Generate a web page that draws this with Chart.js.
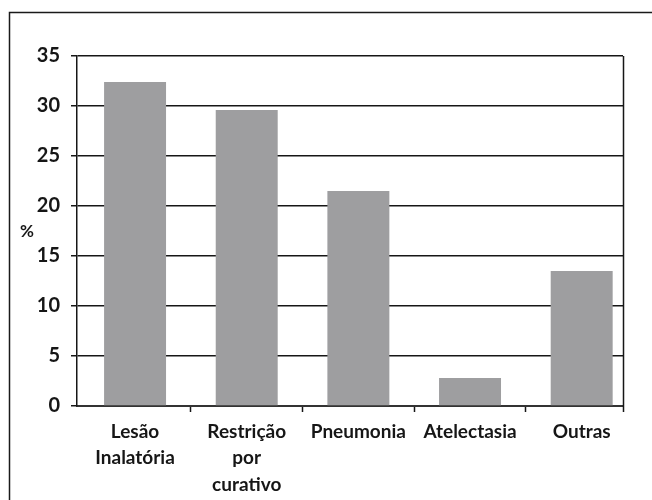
<!DOCTYPE html>
<html>
<head>
<meta charset="utf-8">
<script src="https://cdn.jsdelivr.net/npm/chart.js@4"></script>
<style>
  html, body { margin: 0; padding: 0; background: #fff; }
  #wrap { width: 652px; height: 500px; position: relative; }
</style>
</head>
<body>
<div id="wrap"><canvas id="c" width="652" height="500"></canvas></div>
<script>
// Complications, percentage of patients
const categories = [
  ['Lesão', 'Inalatória'],
  ['Restrição', 'por', 'curativo'],
  'Pneumonia',
  'Atelectasia',
  'Outras'
];
const percentages = [32.4, 29.6, 21.5, 2.8, 13.5];
const yTicks = [0, 5, 10, 15, 20, 25, 30, 35];
const yAxisLabel = '%';

const FONT = 'Lato, "Open Sans", "DejaVu Sans", sans-serif';
const INK = '#161616';

// Category slots laid on a numeric axis: bar i sits at x = i,
// tick marks fall on the half steps between categories.
const X_MIN = -0.52;
const X_MAX = 4.37;
const xTickValues = [];
for (let i = 0; i < categories.length; i++) {
  xTickValues.push(i);
  if (i < categories.length - 1) xTickValues.push(i + 0.5);
}

// Outer frame, right edge of the plot and the horizontal "%" axis label
const decorations = {
  id: 'decorations',
  beforeDraw(chart) {
    const { ctx } = chart;
    ctx.save();
    ctx.strokeStyle = '#1a1a1a';
    ctx.lineWidth = 1.5;
    ctx.beginPath();
    ctx.moveTo(9.5, chart.height);
    ctx.lineTo(9.5, 12.5);
    ctx.lineTo(chart.width, 12.5);
    ctx.stroke();
    ctx.restore();
  },
  afterDraw(chart) {
    const { ctx, chartArea } = chart;
    const y = chart.scales.y;
    ctx.save();
    ctx.strokeStyle = INK;
    ctx.lineWidth = 1.5;
    ctx.beginPath();
    const x = Math.round(chartArea.right) + 0.5;
    ctx.moveTo(x, chartArea.top);
    ctx.lineTo(x, chartArea.bottom + 6);
    ctx.stroke();
    ctx.fillStyle = INK;
    ctx.font = 'bold 17px ' + FONT;
    ctx.textAlign = 'center';
    ctx.textBaseline = 'middle';
    ctx.fillText(yAxisLabel, 27, y.getPixelForValue(17.4));
    ctx.restore();
  }
};

new Chart(document.getElementById('c'), {
  type: 'bar',
  data: {
    datasets: [{
      data: percentages.map((v, i) => ({ x: i, y: v })),
      backgroundColor: '#9e9ea0',
      borderWidth: 0,
      // width relative to the half-step tick spacing
      barPercentage: 1.11,
      categoryPercentage: 1
    }]
  },
  options: {
    responsive: false,
    animation: false,
    devicePixelRatio: 1,
    layout: { padding: { left: 0, right: 29, top: 56, bottom: 0 } },
    plugins: {
      legend: { display: false },
      tooltip: { enabled: false }
    },
    scales: {
      x: {
        type: 'linear',
        offset: false,
        min: X_MIN,
        max: X_MAX,
        afterBuildTicks(scale) { scale.ticks = xTickValues.map(v => ({ value: v })); },
        grid: {
          offset: false,
          drawOnChartArea: false,
          drawTicks: true,
          tickLength: 6,
          tickColor: ctx => (ctx.tick && Number.isInteger(ctx.tick.value)) ? 'rgba(0,0,0,0)' : INK,
          tickWidth: 1.5
        },
        border: { display: true, color: '#333', width: 2 },
        ticks: {
          color: INK,
          font: { family: FONT, size: 19, weight: 'bold', lineHeight: 1.38 },
          padding: 7,
          maxRotation: 0,
          autoSkip: false,
          callback: v => Number.isInteger(v) ? categories[v] : ''
        },
        afterFit(scale) { scale.height = 94; }
      },
      y: {
        min: 0,
        max: 35,
        afterBuildTicks(scale) { scale.ticks = yTicks.map(v => ({ value: v })); },
        grid: {
          color: INK,
          lineWidth: 1.5,
          drawTicks: true,
          tickLength: 6
        },
        border: { display: true, color: INK, width: 1.5 },
        ticks: {
          color: INK,
          font: { family: FONT, size: 20, weight: 'bold' },
          padding: 11
        },
        afterFit(scale) { scale.width = 77; }
      }
    }
  },
  plugins: [decorations]
});
</script>
</body>
</html>
